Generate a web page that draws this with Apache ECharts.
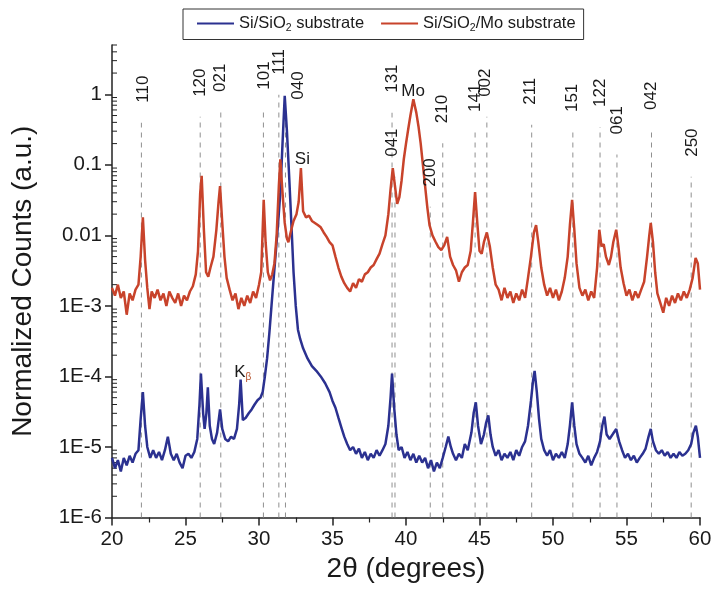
<!DOCTYPE html>
<html><head><meta charset="utf-8">
<script src="https://cdn.jsdelivr.net/npm/echarts/dist/echarts.min.js"></script>
<style>html,body{margin:0;padding:0;background:#fff}#c{width:715px;height:590px}</style>
</head><body><div id="c"></div>
<script>
// ---- data ----
const blueName = 'Si/SiO2 substrate';
const redName = 'Si/SiO2/Mo substrate';

const redSeries = [
[20.0,1.8e-3],[20.2,1.4e-3],[20.4,2.0e-3],[20.6,1.3e-3],[20.8,1.6e-3],[21.0,7.5e-4],[21.2,1.5e-3],[21.4,1.2e-3],[21.6,1.7e-3],[21.8,2.0e-3],
[21.95,5e-3],[22.1,0.018],[22.25,4.5e-3],[22.4,1.8e-3],[22.55,9e-4],[22.7,1.6e-3],[22.9,1.3e-3],[23.1,1.7e-3],[23.3,1.2e-3],[23.5,1.5e-3],
[23.7,1.0e-3],[23.9,1.6e-3],[24.1,1.3e-3],[24.3,1.1e-3],[24.5,1.5e-3],[24.7,1.0e-3],[24.9,1.4e-3],[25.1,1.2e-3],[25.3,1.6e-3],[25.5,1.9e-3],
[25.7,2.8e-3],[25.85,6e-3],[26.0,0.04],[26.1,0.07],[26.25,0.012],[26.4,3e-3],[26.55,2.6e-3],[26.7,3.5e-3],[26.9,5e-3],[27.1,0.012],
[27.25,0.03],[27.35,0.05],[27.5,0.015],[27.65,5e-3],[27.8,2.5e-3],[28.0,1.7e-3],[28.2,1.2e-3],[28.4,1.5e-3],[28.6,9e-4],[28.8,1.3e-3],
[29.0,1.0e-3],[29.2,1.4e-3],[29.4,1.1e-3],[29.6,1.6e-3],[29.8,1.3e-3],[30.0,2.0e-3],[30.15,3e-3],[30.32,0.032],[30.45,8e-3],[30.6,3e-3],
[30.75,2.3e-3],[30.9,2.8e-3],[31.05,4e-3],[31.2,0.01],[31.35,0.05],[31.45,0.12],[31.6,0.04],[31.75,0.015],[31.9,9e-3],[32.0,8e-3],
[32.15,0.011],[32.35,0.016],[32.55,0.02],[32.7,0.03],[32.85,0.09],[33.0,0.022],[33.2,0.018],[33.4,0.019],[33.6,0.016],[33.8,0.015],
[34.0,0.014],[34.2,0.013],[34.4,0.011],[34.6,0.0095],[34.8,0.008],[35.0,0.0072],[35.2,0.005],[35.4,0.0035],[35.6,0.0026],[35.8,0.0021],
[36.0,0.0018],[36.2,0.0016],[36.4,0.0021],[36.6,0.0018],[36.8,0.0024],[37.0,0.0022],[37.2,0.0028],[37.4,0.003],[37.6,0.0035],[37.8,0.0038],
[38.0,0.0046],[38.2,0.0055],[38.4,0.0075],[38.6,0.01],[38.8,0.02],[38.95,0.045],[39.1,0.09],[39.25,0.05],[39.4,0.028],[39.55,0.035],
[39.7,0.06],[39.85,0.12],[40.0,0.2],[40.15,0.32],[40.3,0.5],[40.5,0.85],[40.7,0.55],[40.85,0.35],[41.0,0.2],[41.15,0.1],
[41.3,0.05],[41.45,0.025],[41.6,0.014],[41.8,0.01],[42.0,0.0082],[42.2,0.0068],[42.4,0.0062],[42.6,0.0072],[42.8,0.0095],[43.0,0.005],
[43.2,0.0038],[43.4,0.0032],[43.6,0.0022],[43.8,0.003],[44.0,0.0035],[44.2,0.0038],[44.4,0.006],[44.55,0.015],[44.7,0.041],[44.85,0.015],
[45.0,0.006],[45.15,0.0055],[45.3,0.008],[45.5,0.011],[45.7,0.007],[45.9,0.0035],[46.1,0.002],[46.3,0.0017],[46.5,0.0012],[46.7,0.0018],
[46.9,0.0013],[47.1,0.0016],[47.3,0.0011],[47.5,0.0015],[47.7,0.0012],[47.9,0.0017],[48.1,0.0013],[48.3,0.0025],[48.5,0.005],[48.7,0.011],
[48.85,0.014],[49.0,0.008],[49.2,0.0035],[49.4,0.002],[49.6,0.0014],[49.8,0.0018],[50.0,0.0013],[50.2,0.0017],[50.4,0.0012],[50.6,0.0016],
[50.8,0.0025],[51.0,0.005],[51.15,0.014],[51.3,0.032],[51.45,0.012],[51.6,0.004],[51.8,0.0018],[52.0,0.0014],[52.2,0.0017],[52.4,0.0012],
[52.6,0.0016],[52.8,0.0013],[53.0,0.0035],[53.15,0.012],[53.3,0.007],[53.45,0.0075],[53.6,0.005],[53.8,0.0038],[53.95,0.005],[54.1,0.008],
[54.3,0.012],[54.45,0.007],[54.6,0.0035],[54.8,0.0021],[55.0,0.0014],[55.2,0.0017],[55.4,0.0012],[55.6,0.0016],[55.8,0.0013],[56.0,0.0017],
[56.2,0.0022],[56.4,0.005],[56.55,0.01],[56.65,0.015],[56.8,0.008],[56.95,0.003],[57.1,0.0015],[57.3,0.0011],[57.5,0.0008],[57.7,0.0013],
[57.9,0.001],[58.1,0.0014],[58.3,0.0011],[58.5,0.0015],[58.7,0.0012],[58.9,0.0016],[59.1,0.0013],[59.3,0.0017],[59.5,0.0025],[59.7,0.0048],
[59.85,0.004],[60.0,0.0017]
];

const blueSeries = [
[20.0,7e-6],[20.2,5e-6],[20.4,6.5e-6],[20.6,4.5e-6],[20.8,7e-6],[21.0,5.5e-6],[21.2,7.5e-6],[21.4,6e-6],[21.6,8e-6],[21.8,9e-6],
[21.95,2.5e-5],[22.1,6e-5],[22.25,2e-5],[22.4,1e-5],[22.6,7e-6],[22.8,9e-6],[23.0,7e-6],[23.2,8.5e-6],[23.4,6.5e-6],[23.6,9e-6],
[23.8,1.4e-5],[24.0,8e-6],[24.2,6.5e-6],[24.4,8e-6],[24.6,6e-6],[24.8,5e-6],[25.0,7.5e-6],[25.2,8e-6],[25.4,7e-6],[25.6,8.5e-6],
[25.8,1.3e-5],[25.95,4e-5],[26.05,1.1e-4],[26.2,3e-5],[26.3,1.8e-5],[26.42,3e-5],[26.52,7e-5],[26.65,2e-5],[26.8,1.3e-5],[26.95,1.1e-5],
[27.15,1.6e-5],[27.35,3.4e-5],[27.5,1.8e-5],[27.7,1.3e-5],[27.9,1.2e-5],[28.1,1.4e-5],[28.3,1.3e-5],[28.5,1.8e-5],[28.65,4e-5],[28.75,9e-5],
[28.9,2.4e-5],[29.1,2.6e-5],[29.3,3e-5],[29.5,3.4e-5],[29.7,4e-5],[29.9,4.6e-5],[30.1,5e-5],[30.25,6e-5],[30.4,1.0e-4],[30.55,1.8e-4],
[30.7,4e-4],[30.85,1.0e-3],[31.0,2.5e-3],[31.15,6e-3],[31.3,0.015],[31.45,0.04],[31.6,0.2],[31.75,0.95],[31.9,0.3],[32.05,0.07],
[32.2,0.015],[32.35,3e-3],[32.5,1e-3],[32.65,4.6e-4],[32.8,3.4e-4],[33.0,2.5e-4],[33.3,1.8e-4],[33.6,1.4e-4],[33.9,1.2e-4],[34.2,1.0e-4],
[34.5,8e-5],[34.8,6e-5],[35.0,4.5e-5],[35.2,3.6e-5],[35.4,2.6e-5],[35.6,1.9e-5],[35.8,1.4e-5],[36.0,1.1e-5],[36.2,9e-6],[36.4,1.0e-5],
[36.6,8e-6],[36.8,9.5e-6],[37.0,7e-6],[37.2,8.5e-6],[37.4,6.5e-6],[37.6,8e-6],[37.8,7e-6],[38.0,9e-6],[38.2,7.5e-6],[38.4,9e-6],
[38.6,1.1e-5],[38.8,2e-5],[38.95,5e-5],[39.05,1.1e-4],[39.2,3.5e-5],[39.35,1.5e-5],[39.5,9e-6],[39.7,1.0e-5],[39.9,7e-6],[40.1,8.5e-6],
[40.3,6.5e-6],[40.5,8e-6],[40.7,6e-6],[40.9,7.5e-6],[41.1,6e-6],[41.3,7e-6],[41.5,5e-6],[41.7,6.5e-6],[41.9,4.5e-6],[42.1,6e-6],
[42.3,5e-6],[42.5,7e-6],[42.7,1.0e-5],[42.88,1.4e-5],[43.05,1.0e-5],[43.2,8e-6],[43.4,6.5e-6],[43.6,8e-6],[43.8,7e-6],[44.0,1.1e-5],
[44.2,9e-6],[44.45,1.6e-5],[44.6,3e-5],[44.75,4.3e-5],[44.9,2e-5],[45.1,1.1e-5],[45.3,1.5e-5],[45.45,2.2e-5],[45.6,2.8e-5],[45.75,1.5e-5],
[45.9,1e-5],[46.1,7.5e-6],[46.3,9e-6],[46.5,6.5e-6],[46.7,8e-6],[46.9,7e-6],[47.1,8.5e-6],[47.3,6.5e-6],[47.5,9e-6],[47.7,7.5e-6],
[47.9,1.0e-5],[48.1,1.2e-5],[48.3,2e-5],[48.5,4.5e-5],[48.65,9e-5],[48.75,1.2e-4],[48.9,6e-5],[49.05,2.5e-5],[49.2,1.3e-5],[49.4,9e-6],
[49.6,7.5e-6],[49.8,9e-6],[50.0,6.5e-6],[50.2,8e-6],[50.4,7e-6],[50.6,8.5e-6],[50.8,7e-6],[51.0,1.1e-5],[51.15,2e-5],[51.3,4.3e-5],
[51.45,2e-5],[51.6,1.1e-5],[51.8,8e-6],[52.0,7e-6],[52.2,6e-6],[52.4,7.5e-6],[52.6,5.5e-6],[52.8,7e-6],[53.0,8.5e-6],[53.2,1.2e-5],
[53.35,2e-5],[53.5,2.7e-5],[53.65,1.5e-5],[53.85,1.3e-5],[54.05,1.5e-5],[54.3,1.8e-5],[54.5,1.2e-5],[54.7,9e-6],[54.9,7e-6],[55.1,8e-6],
[55.3,6.5e-6],[55.5,7.5e-6],[55.7,6e-6],[55.9,7e-6],[56.1,8e-6],[56.3,9.5e-6],[56.5,1.4e-5],[56.65,1.8e-5],[56.8,1.2e-5],[57.0,9e-6],
[57.2,8e-6],[57.4,9e-6],[57.6,7.5e-6],[57.8,8.5e-6],[58.0,7e-6],[58.2,8e-6],[58.4,7e-6],[58.6,8.5e-6],[58.8,7.5e-6],[59.0,8e-6],
[59.2,9e-6],[59.4,1.1e-5],[59.55,1.6e-5],[59.72,2e-5],[59.85,1.4e-5],[60.0,7e-6]
];

// reflection markers
const peakLabels = ['110','120','021','101','111','040','131','041','200','210','141','002','211','151','122','061','042','250'];
const peakTheta  = [22.0,26.0,27.4,30.3,31.35,31.8,39.05,39.25,41.65,42.5,44.7,45.5,48.55,51.35,53.2,54.35,56.7,59.4];
const labelTheta = [22.15,26.0,27.37,30.33,31.4,32.7,39.05,39.1,41.65,42.5,44.7,45.4,48.45,51.3,53.2,54.35,56.7,59.5];
const labelCounts = [0.76,0.92,1.08,1.16,1.89,0.84,1.05,0.13,0.049,0.39,0.56,0.92,0.71,0.56,0.66,0.27,0.6,0.13];

// annotations
const annoTheta = [40.48, 32.95, 28.9];
const annoCounts = [1.12, 0.118, 1.16e-4];
const annoText = ['Mo', 'Si', '{k|K}{b|β}'];

// axis ticks
const xMin = 20, xMax = 60, xStep = 5;
const yMin = 1e-6, yMax = 5;
const yMajorTicks = [1e-6,1e-5,1e-4,1e-3,0.01,0.1,1];
const yMinorMantissa = [2,3,4,5,6,7,8,9];
const yMinorDecades = [1e-6,1e-5,1e-4,1e-3,0.01,0.1,1];

const FONT = '"Liberation Sans", Arial, Helvetica, sans-serif';
const TXT = '#1a1a1a';

const yMinorTicks = [];
yMinorDecades.forEach(d => yMinorMantissa.forEach(m => { const v = +(m*d).toPrecision(3); if (v <= yMax) yMinorTicks.push(v); }));

function yFmt(v) {
  const e = Math.round(Math.log10(v));
  if (e === 0) return '1';
  if (e === -1) return '0.1';
  if (e === -2) return '0.01';
  return '1E' + e;
}

const chart = echarts.init(document.getElementById('c'), null, {renderer: 'canvas'});
chart.setOption({
  backgroundColor: '#fff',
  animation: false,
  grid: {left: 112, right: 15, top: 45, bottom: 72.5, containLabel: false},
  legend: {
    data: [blueName, redName],
    left: 183, top: 9,
    padding: [6, 8, 6, 14],
    borderColor: '#333', borderWidth: 1,
    icon: 'rect', itemWidth: 37, itemHeight: 2, itemGap: 17,
    formatter: n => '{t|' + n.replace('SiO2', 'SiO}{s|2}{t|') + '}',
    textStyle: {
      color: TXT, fontFamily: FONT, fontSize: 16.5,
      rich: {t: {fontSize: 16.5, lineHeight: 20, fontFamily: FONT, color: TXT},
             s: {fontSize: 10.5, lineHeight: 12, verticalAlign: 'bottom', fontFamily: FONT, color: TXT}}
    }
  },
  xAxis: {
    type: 'value', min: xMin, max: xMax, interval: xStep,
    name: '2θ (degrees)', nameLocation: 'middle', nameGap: 38,
    nameTextStyle: {fontFamily: FONT, fontSize: 28, color: TXT},
    axisLine: {onZero: false, lineStyle: {color: '#222', width: 1.5}},
    axisTick: {show: true, inside: false, length: 8, lineStyle: {color: '#222', width: 1.5}},
    minorTick: {show: true, splitNumber: 2, length: 5, lineStyle: {color: '#222', width: 1.2}},
    axisLabel: {fontFamily: FONT, fontSize: 20.5, color: TXT, margin: 11},
    splitLine: {show: false}
  },
  yAxis: {
    type: 'log', logBase: 10, min: yMin, max: yMax,
    name: 'Normalized Counts (a.u.)', nameLocation: 'middle', nameGap: 75,
    nameTextStyle: {fontFamily: FONT, fontSize: 28, color: TXT},
    axisLine: {onZero: false, lineStyle: {color: '#222', width: 1.5}},
    axisTick: {show: true, inside: false, length: 7, customValues: yMajorTicks, lineStyle: {color: '#222', width: 1.5}},
    axisLabel: {fontFamily: FONT, fontSize: 20.5, color: TXT, margin: 10, customValues: yMajorTicks, formatter: yFmt},
    splitLine: {show: false}
  },
  series: [
    {
      type: 'custom', name: 'markers', silent: true, z: 1, clip: false,
      data: peakTheta.map((t, i) => [t, labelCounts[i]]),
      encode: {x: 0, y: 1},
      renderItem: (params, api) => {
        const base = api.coord([api.value(0), yMin]);
        const top = api.coord([api.value(0), api.value(1)]);
        return {type: 'line', shape: {x1: base[0], y1: base[1], x2: base[0], y2: top[1] + 20},
                style: {stroke: '#909090', lineWidth: 1, lineDash: [5, 5]}};
      }
    },
    {
      type: 'custom', name: 'yminor', silent: true, z: 3, clip: false,
      data: yMinorTicks.map(v => [xMin, v]),
      encode: {x: 0, y: 1},
      renderItem: (params, api) => {
        const p = api.coord([api.value(0), api.value(1)]);
        return {type: 'line', shape: {x1: p[0], y1: p[1], x2: p[0] + 5, y2: p[1]},
                style: {stroke: '#222', lineWidth: 1}};
      }
    },
    {
      name: blueName, type: 'line', data: blueSeries, showSymbol: false, symbol: 'none', z: 3,
      lineStyle: {color: '#2b3190', width: 2.5}, itemStyle: {color: '#2b3190'}
    },
    {
      name: redName, type: 'line', data: redSeries, showSymbol: false, symbol: 'none', z: 4,
      lineStyle: {color: '#c8432b', width: 2.5}, itemStyle: {color: '#c8432b'}
    },
    {
      type: 'custom', name: 'labels', silent: true, z: 6, clip: false,
      data: labelTheta.map((t, i) => [t, labelCounts[i], i]),
      encode: {x: 0, y: 1},
      renderItem: (params, api) => {
        const p = api.coord([api.value(0), api.value(1)]);
        return {type: 'text', x: p[0], y: p[1], rotation: Math.PI / 2,
                style: {text: peakLabels[api.value(2)], fontFamily: FONT, fontSize: 17, fill: TXT,
                        align: 'left', verticalAlign: 'middle'}};
      }
    },
    {
      type: 'custom', name: 'anno', silent: true, z: 6, clip: false,
      data: annoTheta.map((t, i) => [t, annoCounts[i], i]),
      encode: {x: 0, y: 1},
      renderItem: (params, api) => {
        const p = api.coord([api.value(0), api.value(1)]);
        return {type: 'text', x: p[0], y: p[1],
                style: {text: annoText[api.value(2)], fontFamily: FONT, fontSize: 17, fill: TXT,
                        align: 'center', verticalAlign: 'middle',
                        rich: {k: {fontSize: 17, fontFamily: FONT, fill: TXT, lineHeight: 20},
                               b: {fontSize: 10, fontFamily: FONT, fill: '#b5502a', lineHeight: 12, verticalAlign: 'bottom'}}}};
      }
    }
  ]
});
</script>
</body></html>
